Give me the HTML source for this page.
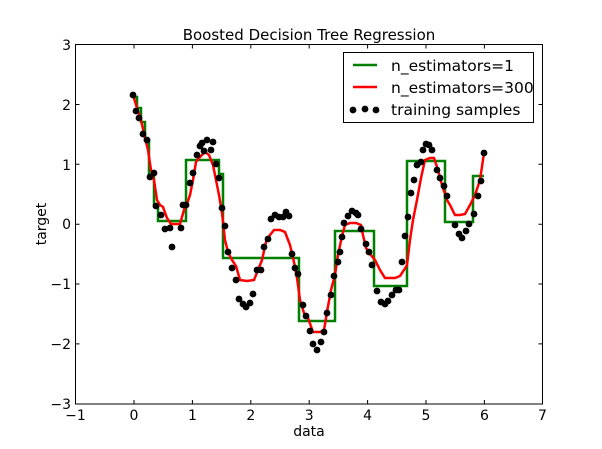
<!DOCTYPE html>
<html><head><style>
html,body{margin:0;padding:0;background:#fff;}
svg{display:block;font-family:"DejaVu Sans","Liberation Sans",sans-serif;}
</style></head><body>
<svg width="602" height="449" viewBox="0 0 602 449" xmlns="http://www.w3.org/2000/svg">
<rect width="602" height="449" fill="#fff"/>
<text x="309" y="40" font-size="15" text-anchor="middle">Boosted Decision Tree Regression</text>
<!-- green -->
<path d="M134,97 L137,97 L137,108 L141,108 L141,122 L145,122 L145,140 L149,140 L149,175 L154,175 L154,205 L158,205 L158,221 L186,221 L186,160 L219,160 L219,174 L223,174 L223,258 L299,258 L299,321 L335,321 L335,231 L374,231 L374,286 L407,286 L407,161 L445,161 L445,222 L473,222 L473,176 L484,176" fill="none" stroke="#008000" stroke-width="2.5"/>
<!-- red -->
<path d="M133,95 L137,108 L141,120 L145,138 L148,150 L151,170 L154,180 L157,200 L160,205 L163,207 L167,218 L171,224 L176,224 L180,224 L184,210 L187,204 L190,195 L193,180 L196,162 L200,157 L205,152 L209,155 L213,165 L216,180 L219,195 L222,213 L225,240 L228,252 L232,260 L236,266 L240,280 L247,281 L254,280 L258,270 L262,260 L266,242 L270,235 L274,230 L280,230 L285,232 L290,245 L294,262 L297,278 L300,300 L304,313 L308,318 L313,332 L320,332 L324,330 L327,312 L331,290 L335,275 L338,255 L342,236 L345,225 L350,223 L356,223 L361,225 L363,235 L366,248 L370,254 L375,260 L380,270 L385,278 L395,278 L400,276 L404,270 L407,265 L410,240 L413,220 L417,200 L421,178 L425,160 L430,158 L434,158 L438,170 L442,185 L447,200 L450,205 L455,215 L460,215 L465,214 L470,205 L475,195 L480,180 L484,153" fill="none" stroke="#ff0000" stroke-width="2.5"/>
<!-- points -->
<g fill="#000">
<circle cx="133" cy="95" r="3.4"/><circle cx="136" cy="111" r="3.4"/><circle cx="139" cy="118" r="3.4"/><circle cx="143" cy="134" r="3.4"/><circle cx="147" cy="140" r="3.4"/><circle cx="150" cy="177" r="3.4"/><circle cx="154" cy="173" r="3.4"/><circle cx="156" cy="206" r="3.4"/><circle cx="161" cy="215" r="3.4"/><circle cx="165" cy="229" r="3.4"/><circle cx="170" cy="228" r="3.4"/><circle cx="172" cy="247" r="3.4"/><circle cx="181" cy="228" r="3.4"/><circle cx="183" cy="205" r="3.4"/><circle cx="186" cy="205" r="3.4"/><circle cx="190" cy="183" r="3.4"/><circle cx="193" cy="173" r="3.4"/><circle cx="197" cy="155" r="3.4"/><circle cx="200" cy="146" r="3.4"/><circle cx="202" cy="143" r="3.4"/><circle cx="207" cy="140" r="3.4"/><circle cx="204" cy="151" r="3.4"/><circle cx="211" cy="150" r="3.4"/><circle cx="213" cy="142" r="3.4"/><circle cx="216" cy="164" r="3.4"/><circle cx="219" cy="178" r="3.4"/><circle cx="222" cy="208" r="3.4"/><circle cx="225" cy="226" r="3.4"/><circle cx="228" cy="252" r="3.4"/><circle cx="232" cy="268" r="3.4"/><circle cx="236" cy="280" r="3.4"/><circle cx="239" cy="299" r="3.4"/><circle cx="243" cy="304" r="3.4"/><circle cx="246" cy="307" r="3.4"/><circle cx="250" cy="303" r="3.4"/><circle cx="253" cy="294" r="3.4"/><circle cx="257" cy="270" r="3.4"/><circle cx="261" cy="270" r="3.4"/><circle cx="264" cy="247" r="3.4"/><circle cx="268" cy="239" r="3.4"/><circle cx="271" cy="219" r="3.4"/><circle cx="275" cy="215" r="3.4"/><circle cx="279" cy="217" r="3.4"/><circle cx="283" cy="217" r="3.4"/><circle cx="286" cy="212" r="3.4"/><circle cx="289" cy="216" r="3.4"/><circle cx="292" cy="254" r="3.4"/><circle cx="295" cy="268" r="3.4"/><circle cx="298" cy="274" r="3.4"/><circle cx="303" cy="305" r="3.4"/><circle cx="306" cy="316" r="3.4"/><circle cx="310" cy="331" r="3.4"/><circle cx="313" cy="344" r="3.4"/><circle cx="317" cy="350" r="3.4"/><circle cx="321" cy="342" r="3.4"/><circle cx="324" cy="332" r="3.4"/><circle cx="327" cy="313" r="3.4"/><circle cx="331" cy="295" r="3.4"/><circle cx="334" cy="276" r="3.4"/><circle cx="338" cy="262" r="3.4"/><circle cx="340" cy="252" r="3.4"/><circle cx="342" cy="237" r="3.4"/><circle cx="344" cy="223" r="3.4"/><circle cx="348" cy="216" r="3.4"/><circle cx="352" cy="211" r="3.4"/><circle cx="356" cy="213" r="3.4"/><circle cx="358" cy="215" r="3.4"/><circle cx="361" cy="229" r="3.4"/><circle cx="366" cy="244" r="3.4"/><circle cx="369" cy="252" r="3.4"/><circle cx="372" cy="265" r="3.4"/><circle cx="377" cy="291" r="3.4"/><circle cx="381" cy="302" r="3.4"/><circle cx="385" cy="304" r="3.4"/><circle cx="388" cy="301" r="3.4"/><circle cx="392" cy="295" r="3.4"/><circle cx="396" cy="290" r="3.4"/><circle cx="399" cy="290" r="3.4"/><circle cx="402" cy="262" r="3.4"/><circle cx="405" cy="236" r="3.4"/><circle cx="408" cy="217" r="3.4"/><circle cx="411" cy="193" r="3.4"/><circle cx="414" cy="180" r="3.4"/><circle cx="417" cy="165" r="3.4"/><circle cx="421" cy="162" r="3.4"/><circle cx="423" cy="150" r="3.4"/><circle cx="426" cy="144" r="3.4"/><circle cx="429" cy="145" r="3.4"/><circle cx="432" cy="150" r="3.4"/><circle cx="437" cy="170" r="3.4"/><circle cx="440" cy="178" r="3.4"/><circle cx="444" cy="186" r="3.4"/><circle cx="447" cy="196" r="3.4"/><circle cx="455" cy="225" r="3.4"/><circle cx="459" cy="234" r="3.4"/><circle cx="462" cy="238" r="3.4"/><circle cx="466" cy="231" r="3.4"/><circle cx="469" cy="224" r="3.4"/><circle cx="474" cy="214" r="3.4"/><circle cx="478" cy="196" r="3.4"/><circle cx="481" cy="181" r="3.4"/><circle cx="484" cy="153" r="3.4"/>
</g>
<!-- axes frame -->
<rect x="75.5" y="44.5" width="467" height="359.5" fill="none" stroke="#000" stroke-width="1"/>
<g stroke="#000" stroke-width="1">
<path d="M134,404v-4M192.4,404v-4M250.8,404v-4M309.2,404v-4M367.6,404v-4M426,404v-4M484.4,404v-4"/>
<path d="M134,44.5v4M192.4,44.5v4M250.8,44.5v4M309.2,44.5v4M367.6,44.5v4M426,44.5v4M484.4,44.5v4"/>
<path d="M75.5,104.5h4M75.5,164.3h4M75.5,224.2h4M75.5,284h4M75.5,343.9h4"/>
<path d="M542.5,104.5h-4M542.5,164.3h-4M542.5,224.2h-4M542.5,284h-4M542.5,343.9h-4"/>
</g>
<g font-size="14" text-anchor="middle">
<text x="75.5" y="420">−1</text><text x="134" y="420">0</text><text x="192.4" y="420">1</text><text x="250.8" y="420">2</text><text x="309.2" y="420">3</text><text x="367.6" y="420">4</text><text x="426" y="420">5</text><text x="484.4" y="420">6</text><text x="542.5" y="420">7</text>
</g>
<g font-size="14" text-anchor="end">
<text x="71" y="50">3</text><text x="71" y="110">2</text><text x="71" y="170">1</text><text x="71" y="229">0</text><text x="71" y="289">−1</text><text x="71" y="349">−2</text><text x="71" y="409">−3</text>
</g>
<text x="309" y="436" font-size="14" text-anchor="middle">data</text>
<text transform="translate(46,224) rotate(-90)" font-size="14" text-anchor="middle">target</text>
<!-- legend -->
<rect x="343.5" y="52.5" width="190" height="70" fill="#fff" stroke="#000" stroke-width="1"/>
<line x1="353" y1="65" x2="377" y2="65" stroke="#008000" stroke-width="2.5"/>
<line x1="353" y1="87" x2="377" y2="87" stroke="#ff0000" stroke-width="2.5"/>
<circle cx="353" cy="110" r="3.4"/><circle cx="365" cy="109" r="3.4"/><circle cx="376" cy="110" r="3.4"/>
<g font-size="15.5">
<text x="391" y="71">n_estimators=1</text>
<text x="391" y="93">n_estimators=300</text>
<text x="391" y="115">training samples</text>
</g>
</svg>
</body></html>
